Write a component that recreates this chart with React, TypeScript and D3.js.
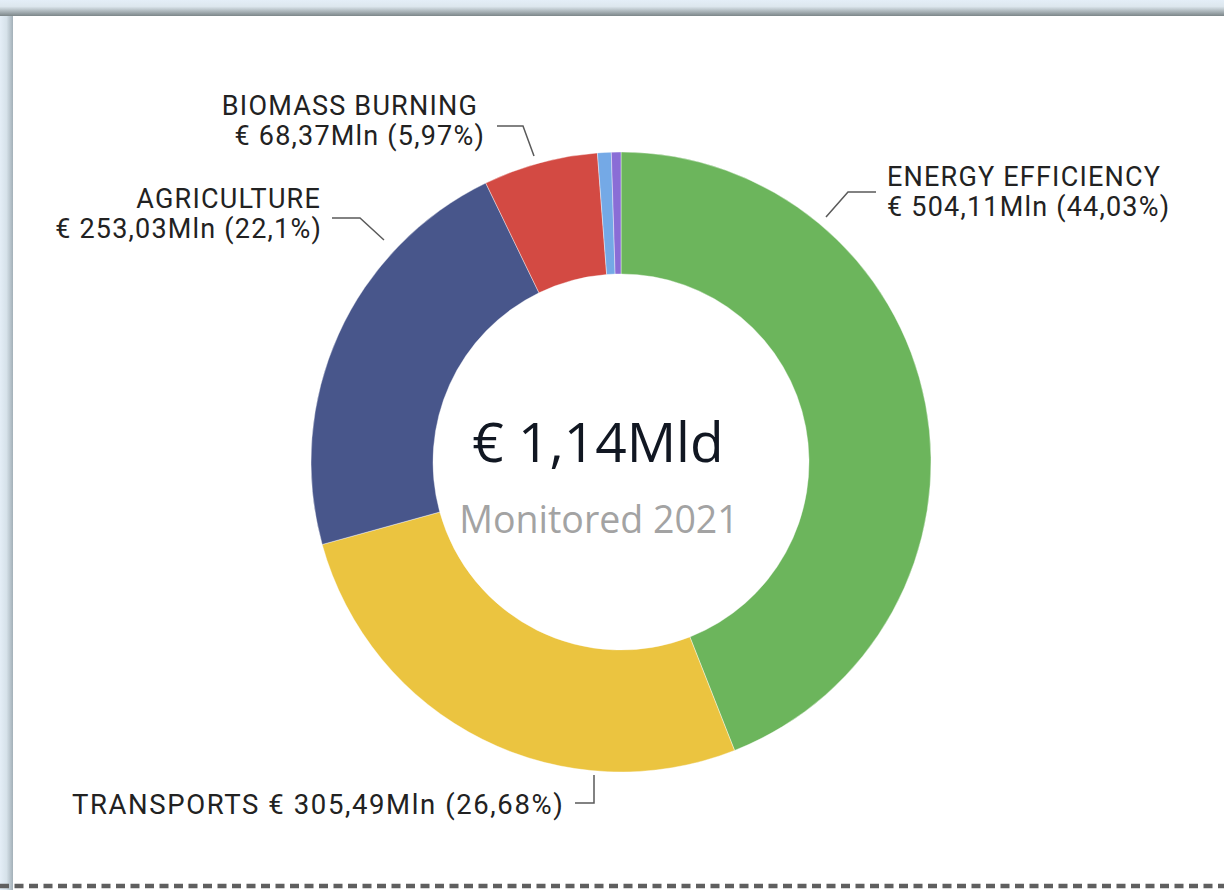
import React from "react";
import * as d3 from "d3";

const categories = ["ENERGY EFFICIENCY", "TRANSPORTS", "AGRICULTURE", "BIOMASS BURNING", "OTHER A", "OTHER B"];
const valuesMln = [504.11, 305.49, 253.03, 68.37, 8.2, 5.7];
const valueLabels = ["€ 504,11Mln (44,03%)", "€ 305,49Mln (26,68%)", "€ 253,03Mln (22,1%)", "€ 68,37Mln (5,97%)", "", ""];
const colors = ["#6cb55c", "#ebc440", "#48568b", "#d34a43", "#74a9e6", "#8a6dd6"];
const totalLabel = "€ 1,14Mld";
const subtitle = "Monitored 2021";

const W = 1224;
const H = 890;

export default function App() {
  const cx = 621, cy = 462, R = 310, r = 188;
  const data = categories.map((c, i) => ({ c, v: valuesMln[i], color: colors[i] }));
  const pie = d3.pie<any>().value((d: any) => d.v).sort(null).startAngle(0).endAngle(2 * Math.PI);
  const arc = d3.arc<any>().innerRadius(r).outerRadius(R);
  const arcs = pie(data);
  const lblFont = "Roboto, 'DejaVu Sans', sans-serif";
  const lblStyle: React.CSSProperties = { fontFamily: lblFont, fontSize: 27, letterSpacing: 1.2, fill: "#222222" };
  const lblStyleT: React.CSSProperties = { ...lblStyle, fontSize: 27.5, letterSpacing: 1.6 };
  const lead = "#5a5a5a";
  return (
    <svg width={W} height={H} style={{ position: "absolute", left: 0, top: 0, display: "block" }}>
      <defs>
        <linearGradient id="topShadow" x1="0" y1="0" x2="0" y2="1">
          <stop offset="0" stopColor="#e4eef7" />
          <stop offset="0.4" stopColor="#dde7ee" />
          <stop offset="1" stopColor="#7c8689" />
        </linearGradient>
        <linearGradient id="leftShadow" x1="0" y1="0" x2="1" y2="0">
          <stop offset="0" stopColor="#e4eef7" />
          <stop offset="0.5" stopColor="#d6e2ea" />
          <stop offset="1" stopColor="#a3b0b8" />
        </linearGradient>
      </defs>
      <rect x={0} y={0} width={W} height={H} fill="#e4eef7" />
      <rect x={0} y={0} width={13} height={H} fill="url(#leftShadow)" />
      <rect x={0} y={0} width={W} height={16} fill="url(#topShadow)" />
      <rect x={13} y={16} width={W - 13} height={H - 16} fill="#ffffff" />

      <g transform={`translate(${cx},${cy})`}>
        {arcs.map((a, i) => (
          <path key={i} d={arc(a) as string} fill={a.data.color} stroke="#ffffff" strokeWidth={0.4} />
        ))}
      </g>

      <text x={598} y={462} textAnchor="middle" style={{ fontFamily: "'Open Sans', sans-serif", fontSize: 55, fill: "#111722" }}>{totalLabel}</text>
      <text x={599} y={533} textAnchor="middle" style={{ fontFamily: "'Open Sans', sans-serif", fontSize: 37.5, fill: "#a3a3a3" }}>{subtitle}</text>

      {/* BIOMASS BURNING */}
      <text x={478} y={115} textAnchor="end" style={lblStyle}>{categories[3]}</text>
      <text x={485} y={145} textAnchor="end" style={lblStyle}>{valueLabels[3]}</text>
      <polyline points="497,126 523,126 534,156" fill="none" stroke={lead} strokeWidth={1.5} />

      {/* AGRICULTURE */}
      <text x={321} y={208} textAnchor="end" style={lblStyle}>{categories[2]}</text>
      <text x={322} y={238} textAnchor="end" style={lblStyle}>{valueLabels[2]}</text>
      <polyline points="332,218 360,218 384,240" fill="none" stroke={lead} strokeWidth={1.5} />

      {/* ENERGY EFFICIENCY */}
      <text x={887} y={186} textAnchor="start" style={lblStyle}>{categories[0]}</text>
      <text x={887} y={216} textAnchor="start" style={lblStyle}>{valueLabels[0]}</text>
      <polyline points="876,192 848,192 826,217" fill="none" stroke={lead} strokeWidth={1.5} />

      {/* TRANSPORTS */}
      <text x={72} y={814} textAnchor="start" style={lblStyleT}>{categories[1] + " " + valueLabels[1]}</text>
      <polyline points="575,803 594,803 594,775" fill="none" stroke={lead} strokeWidth={1.5} />

      <line x1={0} x2={W} y1={886} y2={886} stroke="#5f5f5f" strokeWidth={4.5} strokeDasharray="9 5.5" />
    </svg>
  );
}
